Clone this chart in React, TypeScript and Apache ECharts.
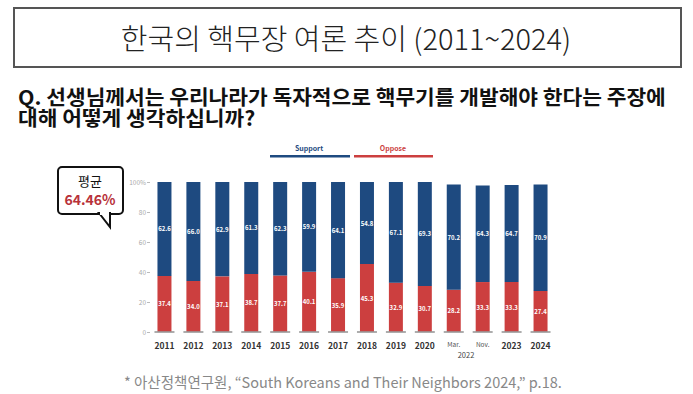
import React, { useEffect, useRef } from "react";
import * as echarts from "echarts";

const categories = ["2011", "2012", "2013", "2014", "2015", "2016", "2017", "2018", "2019", "2020", "Mar.", "Nov.", "2023", "2024"];
const supportValues = [62.6, 66.0, 62.9, 61.3, 62.3, 59.9, 64.1, 54.8, 67.1, 69.3, 70.2, 64.3, 64.7, 70.9];
const opposeValues = [37.4, 34.0, 37.1, 38.7, 37.7, 40.1, 35.9, 45.3, 32.9, 30.7, 28.2, 33.3, 33.3, 27.4];
const baseValues = categories.map(() => 0);
const yTicks = [0, 20, 40, 60, 80, 100];

const FONT = "'Noto Sans CJK KR', 'Noto Sans', sans-serif";
const BLUE = "#1e4a80";
const RED = "#cc3f3f";

export default function App() {
  const ref = useRef<HTMLDivElement>(null);
  useEffect(() => {
    document.body.style.margin = "0";
    const chart = echarts.init(ref.current!, null, { renderer: "svg" });
    const labelStyle = {
      show: true,
      position: "inside",
      color: "#ffffff",
      fontSize: 6,
      fontWeight: "bold",
      fontFamily: FONT,
      formatter: (p: any) => p.value.toFixed(1),
    };
    chart.setOption({
      animation: false,
      backgroundColor: "#ffffff",
      textStyle: { fontFamily: FONT },
      grid: { left: 150, top: 182, width: 405, height: 150 },
      xAxis: {
        type: "category",
        data: categories,
        axisLine: { show: false },
        axisTick: { show: false },
        axisLabel: {
          interval: 0,
          margin: 9,
          formatter: (v: string) => (v === "Mar." || v === "Nov." ? "{s|" + v + "}" : "{y|" + v + "}"),
          rich: {
            y: { fontSize: 8.5, fontWeight: "bold", color: "#333333", fontFamily: FONT },
            s: { fontSize: 6.5, color: "#555555", fontFamily: FONT },
          },
        },
      },
      yAxis: {
        type: "value",
        min: 0,
        max: 100,
        interval: 20,
        axisLine: { show: false },
        splitLine: { show: false },
        axisTick: { show: true, length: 3, lineStyle: { color: "#bbbbbb" } },
        axisLabel: {
          margin: 4,
          fontSize: 6.5,
          color: "#aaaaaa",
          formatter: (v: number) => (v === yTicks[yTicks.length - 1] ? v + "%" : String(v)),
        },
      },
      series: [
        {
          name: "Oppose",
          type: "bar",
          stack: "total",
          barWidth: 14,
          data: opposeValues,
          itemStyle: { color: RED },
          label: labelStyle,
        },
        {
          name: "Support",
          type: "bar",
          stack: "total",
          barWidth: 14,
          data: supportValues,
          itemStyle: { color: BLUE },
          label: labelStyle,
        },
        {
          name: "base",
          type: "scatter",
          data: baseValues,
          symbol: "rect",
          symbolSize: [20, 2],
          itemStyle: { color: "#999999" },
          z: 5,
        },
      ],
      graphic: [
        {
          type: "rect",
          shape: { x: 14, y: 8, width: 667, height: 59 },
          style: { fill: "#ffffff", stroke: "#555555", lineWidth: 2 },
        },
        {
          type: "text",
          x: 346,
          y: 37,
          style: {
            text: "한국의 핵무장 여론 추이 (2011~2024)",
            fontSize: 29,
            fontFamily: FONT,
            fill: "#222222",
            align: "center",
            verticalAlign: "middle",
            fontWeight: 300,
          },
        },
        {
          type: "text",
          x: 18,
          y: 96,
          scaleX: 1.07,
          style: {
            text: "Q. 선생님께서는 우리나라가 독자적으로 핵무기를 개발해야 한다는 주장에",
            fontSize: 20,
            fontWeight: "bold",
            fontFamily: FONT,
            fill: "#111111",
            verticalAlign: "middle",
          },
        },
        {
          type: "text",
          x: 18,
          y: 117,
          scaleX: 1.07,
          style: {
            text: "대해 어떻게 생각하십니까?",
            fontSize: 20,
            fontWeight: "bold",
            fontFamily: FONT,
            fill: "#111111",
            verticalAlign: "middle",
          },
        },
        {
          type: "text",
          x: 309,
          y: 148,
          style: { text: "Support", fontSize: 7, fontWeight: "bold", fontFamily: FONT, fill: BLUE, align: "center", verticalAlign: "middle" },
        },
        { type: "rect", shape: { x: 270, y: 155, width: 80, height: 2.5 }, style: { fill: BLUE } },
        {
          type: "text",
          x: 393,
          y: 148,
          style: { text: "Oppose", fontSize: 7, fontWeight: "bold", fontFamily: FONT, fill: RED, align: "center", verticalAlign: "middle" },
        },
        { type: "rect", shape: { x: 354, y: 155, width: 79, height: 2.5 }, style: { fill: RED } },
        {
          type: "text",
          x: 466,
          y: 354,
          style: { text: "2022", fontSize: 7.5, fontFamily: FONT, fill: "#444444", align: "center", verticalAlign: "middle" },
        },
        {
          type: "rect",
          shape: { x: 58, y: 167, width: 65, height: 47, r: 4 },
          style: { fill: "#ffffff", stroke: "#111111", lineWidth: 2 },
        },
        {
          type: "polygon",
          shape: { points: [[99, 213], [110, 227], [110, 213]] },
          style: { fill: "#ffffff", stroke: "#111111", lineWidth: 2 },
        },
        { type: "rect", shape: { x: 100, y: 212, width: 9, height: 3 }, style: { fill: "#ffffff" } },
        {
          type: "text",
          x: 90,
          y: 180,
          style: { text: "평균", fontSize: 13, fontFamily: FONT, fill: "#111111", align: "center", verticalAlign: "middle" },
        },
        {
          type: "text",
          x: 90,
          y: 199,
          style: { text: "64.46%", fontSize: 14, fontWeight: "bold", fontFamily: FONT, fill: "#b8323a", align: "center", verticalAlign: "middle" },
        },
        {
          type: "text",
          x: 124,
          y: 381,
          style: {
            text: "* 아산정책연구원, “South Koreans and Their Neighbors 2024,” p.18.",
            fontSize: 14.5,
            fontFamily: FONT,
            fill: "#888888",
            verticalAlign: "middle",
          },
        },
      ],
    });
    return () => chart.dispose();
  }, []);
  return <div ref={ref} style={{ width: 693, height: 394 }} />;
}
